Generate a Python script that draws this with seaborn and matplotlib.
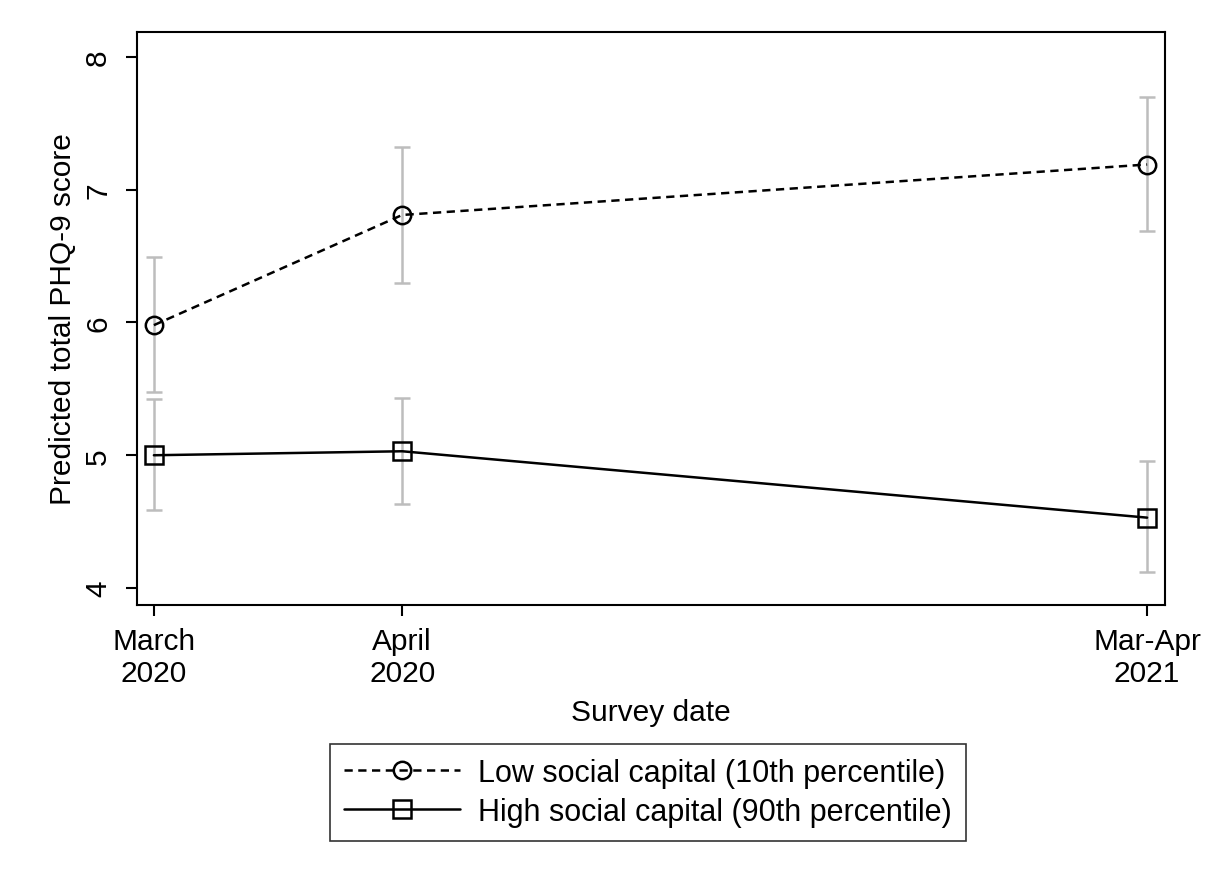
import numpy as np
import pandas as pd
import matplotlib
matplotlib.use("Agg")
import matplotlib.pyplot as plt
import seaborn as sns

# Data
dates = ["March\n2020", "April\n2020", "Mar-Apr\n2021"]
x_pos = [1, 2, 5]
groups = ["Low social capital (10th percentile)", "High social capital (90th percentile)"]
low_mean = [5.98, 6.81, 7.19]
low_lo = [5.48, 6.30, 6.69]
low_hi = [6.49, 7.32, 7.70]
high_mean = [5.00, 5.03, 4.53]
high_lo = [4.59, 4.63, 4.12]
high_hi = [5.42, 5.43, 4.96]

df = pd.DataFrame({
    "x": x_pos * 2,
    "y": low_mean + high_mean,
    "lo": low_lo + high_lo,
    "hi": low_hi + high_hi,
    "group": [groups[0]] * 3 + [groups[1]] * 3,
})

sns.set_theme(style="ticks")
plt.rcParams["font.family"] = ["Liberation Sans", "DejaVu Sans"]
plt.rcParams["text.color"] = "black"
plt.rcParams["axes.labelcolor"] = "black"
plt.rcParams["xtick.color"] = "black"
plt.rcParams["ytick.color"] = "black"

FS = 21.5
LFS = 22

fig = plt.figure(figsize=(12.06, 8.78), dpi=100)
ax = fig.add_axes([0.1136, 0.3098, 0.8524, 0.6526])

# CIs
ax.errorbar(df["x"], df["y"], yerr=[df["y"] - df["lo"], df["hi"] - df["y"]],
            fmt="none", ecolor="#bdbdbd", elinewidth=1.8, capsize=6, capthick=1.8, zorder=1)

sns.lineplot(data=df, x="x", y="y", hue="group", style="group",
             hue_order=groups, style_order=groups,
             palette=["black", "black"],
             dashes={groups[0]: (3.3, 2.2), groups[1]: ""},
             markers={groups[0]: "o", groups[1]: "s"},
             markersize=12.5, markerfacecolor="none", markeredgecolor="black",
             markeredgewidth=1.8, linewidth=1.8, ax=ax, zorder=3)

ax.set_xlim(0.932, 5.072)
ax.set_ylim(3.872, 8.188)
ax.set_xticks(x_pos)
ax.set_xticklabels(dates, fontsize=FS, linespacing=1.15)
ax.set_yticks([4, 5, 6, 7, 8])
ax.set_yticklabels(["4", "5", "6", "7", "8"], fontsize=FS, rotation=90, va="center")
ax.set_xlabel("Survey date", fontsize=FS, labelpad=8)
ax.set_ylabel("Predicted total PHQ-9 score", fontsize=FS, labelpad=5)
ax.tick_params(axis="x", direction="out", length=8, width=1.5, pad=8)
ax.tick_params(axis="y", direction="out", length=8, width=1.5, pad=10)
for s in ax.spines.values():
    s.set_visible(True)
    s.set_linewidth(1.5)
    s.set_color("black")

h, l = ax.get_legend_handles_labels()
leg = ax.legend(h, l, loc="upper center", bbox_to_anchor=(0.497, -0.216),
                fontsize=LFS, frameon=True, fancybox=False, edgecolor="black",
                handlelength=3.8, handletextpad=0.6, borderpad=0.45, labelspacing=0.3)
leg.get_frame().set_linewidth(1.2)

fig.savefig("out.png", dpi=100)
